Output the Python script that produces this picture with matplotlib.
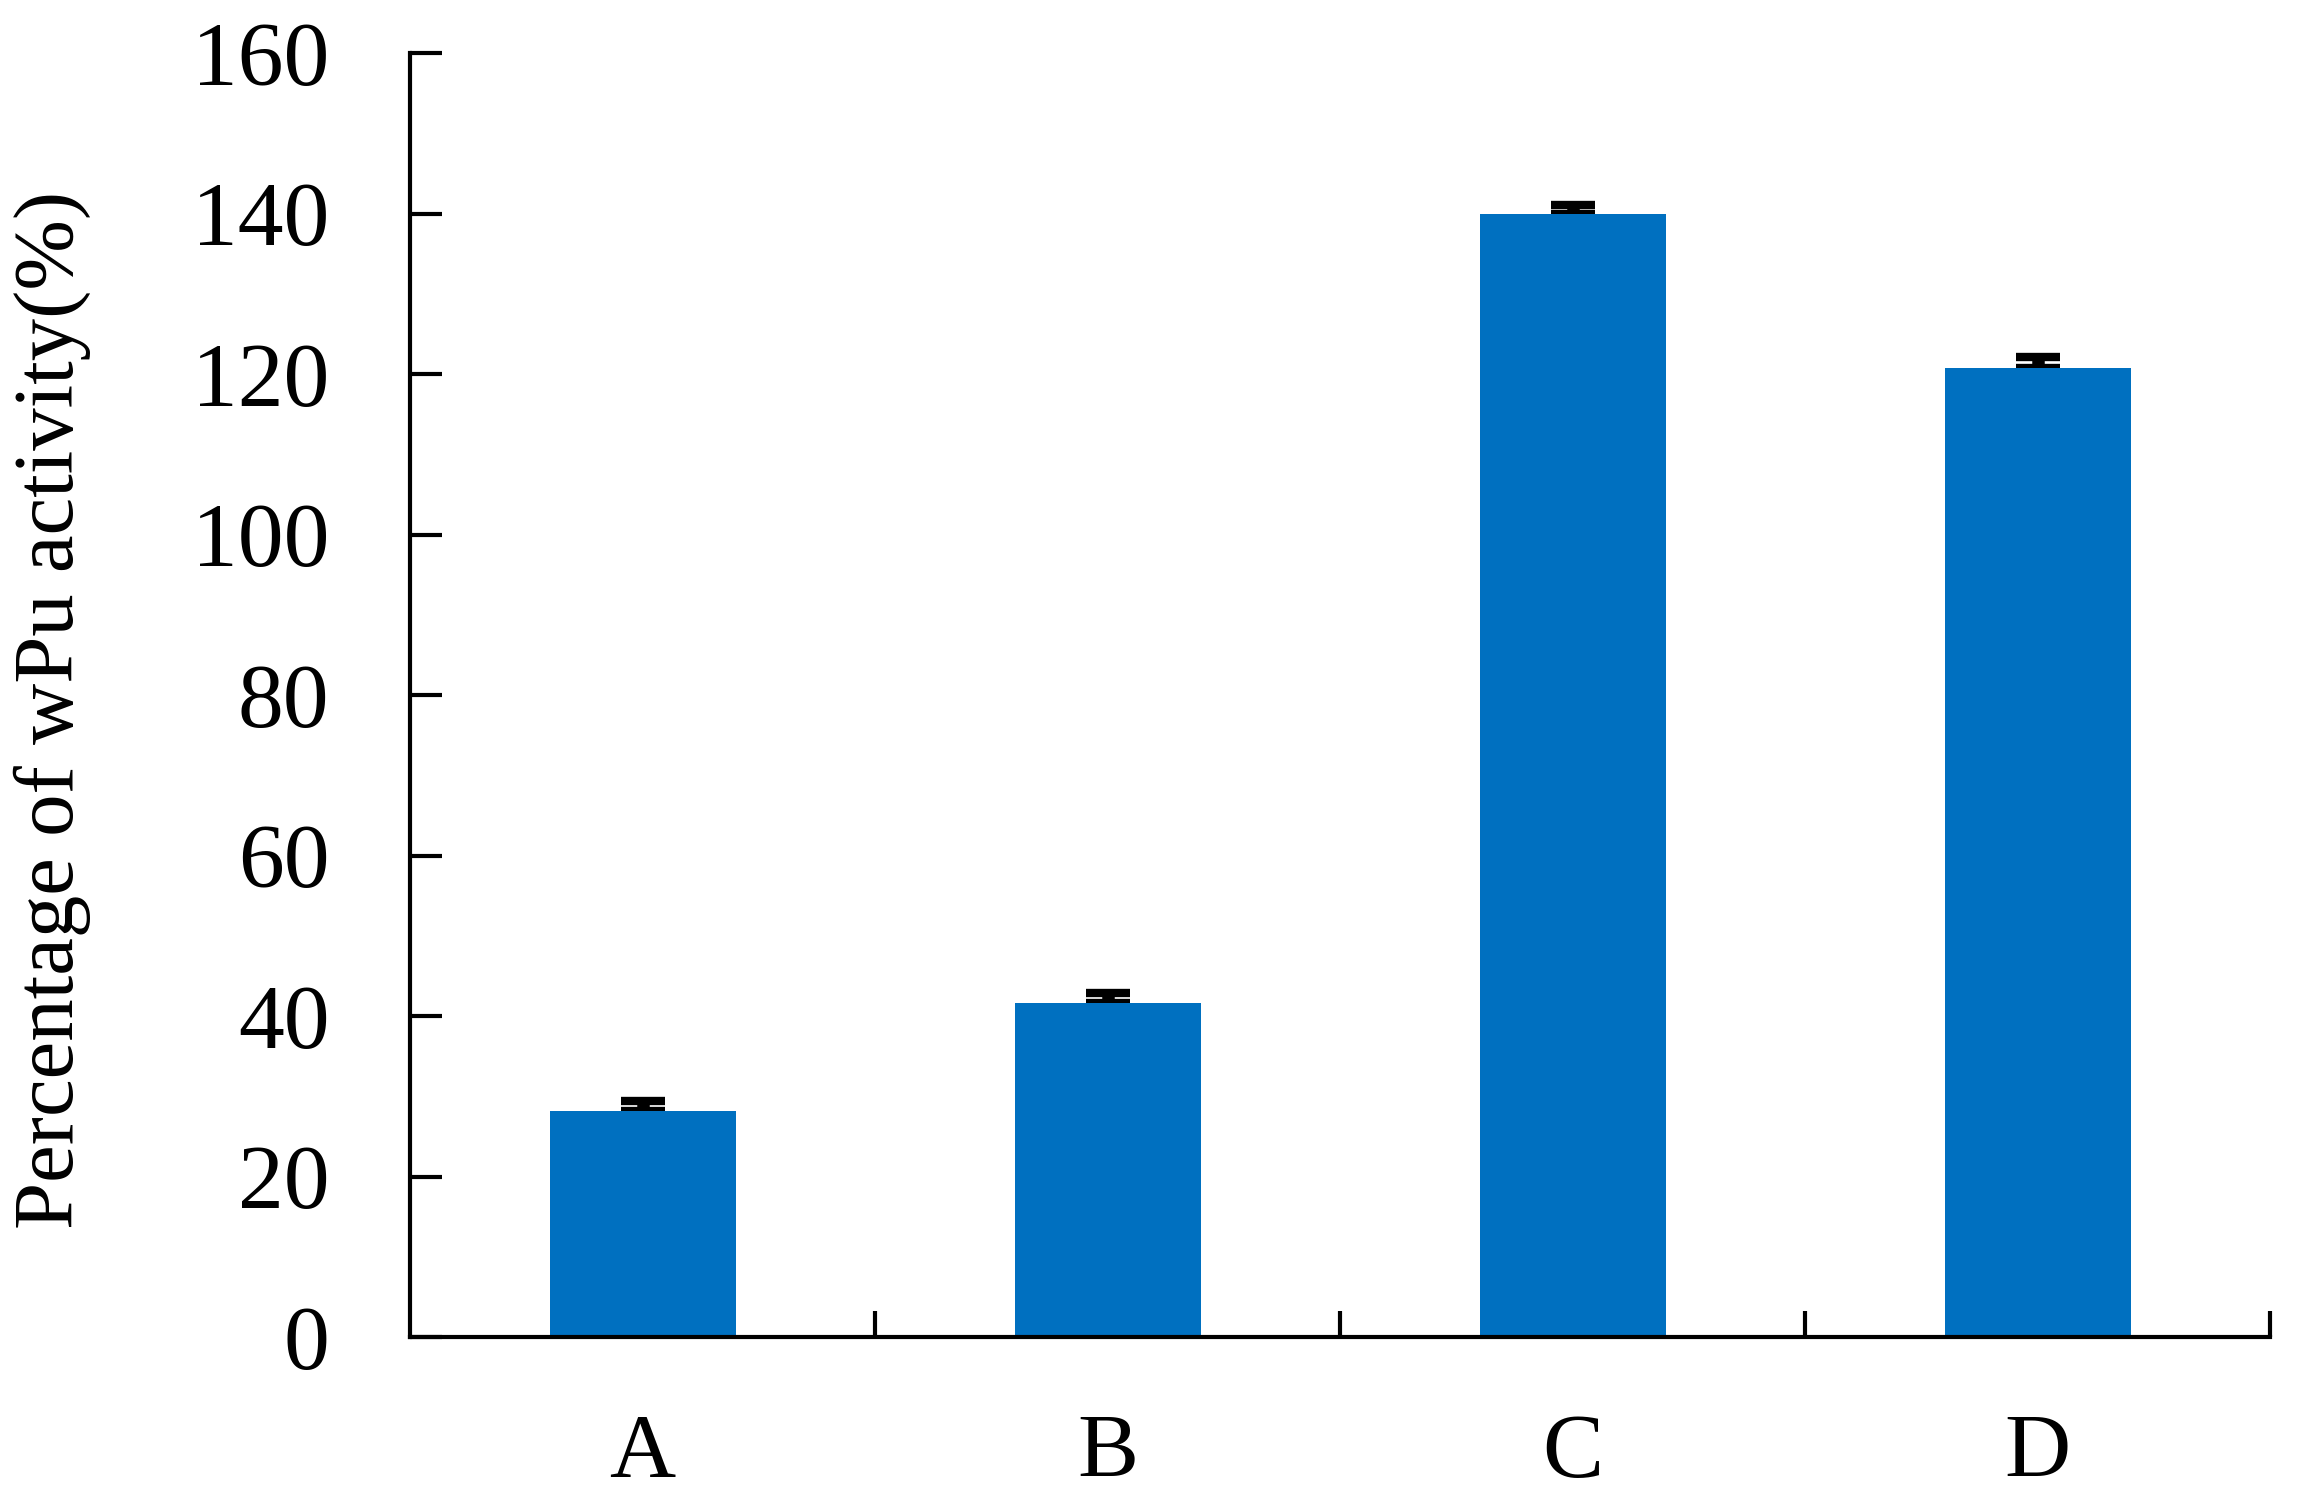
import matplotlib
matplotlib.use("Agg")
from matplotlib import pyplot as plt
from matplotlib.ticker import FixedLocator

categories = ["A", "B", "C", "D"]
values = [28.2, 41.6, 139.9, 120.8]
errors = [1.2, 1.3, 1.1, 1.3]
y_ticks = [0, 20, 40, 60, 80, 100, 120, 140, 160]


def main():
    plt.rcParams['font.family'] = ['Liberation Serif', 'DejaVu Serif']
    fig = plt.figure(figsize=(22.97, 15.0), dpi=100)
    ax = fig.add_axes([410 / 2297, 1 - 1337 / 1500, (2270 - 410) / 2297, (1337 - 53) / 1500])

    x = list(range(len(categories)))
    # errorbar drawn under the bars so only the upper half shows
    ax.errorbar(x, values, yerr=[[0] * len(errors), errors], fmt='none',
                ecolor='black', elinewidth=9, capsize=16, capthick=6, zorder=1)
    ax.bar(x, values, width=0.4, color='#0070C0', zorder=2)

    ax.set_xlim(-0.5, 3.5)
    ax.set_ylim(0, 160)
    ax.set_xticks(x)
    ax.set_xticklabels(categories)
    ax.xaxis.set_minor_locator(FixedLocator([0.5, 1.5, 2.5, 3.5]))
    ax.tick_params(axis='x', which='major', length=0, pad=55, labelsize=66)
    ax.tick_params(axis='x', which='minor', direction='in', length=19, width=3)
    ax.set_yticks(y_ticks)
    ax.tick_params(axis='y', direction='in', length=23, width=3, pad=58, labelsize=66)

    for side in ['top', 'right']:
        ax.spines[side].set_visible(False)
    for side in ['left', 'bottom']:
        ax.spines[side].set_linewidth(3)

    ax.set_ylabel("Percentage of wPu activity(%)", fontsize=61)
    ax.yaxis.set_label_coords(-0.1715, 0.488)

    fig.savefig("out.png", dpi=100)
    plt.close(fig)


if __name__ == '__main__':
    main()
